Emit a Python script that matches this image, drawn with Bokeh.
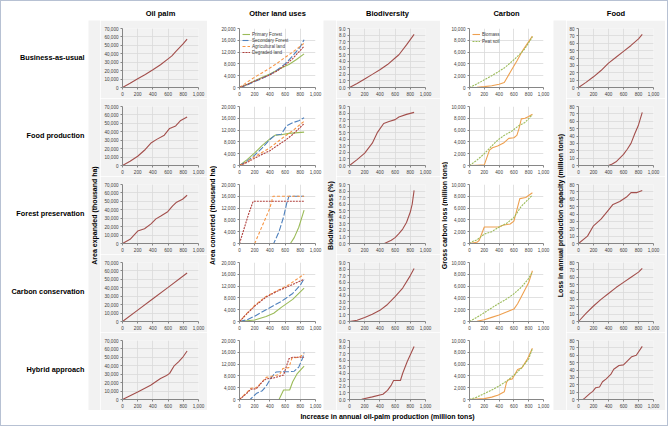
import math
from bokeh.plotting import figure
from bokeh.layouts import row, column
from bokeh.models import (ColumnDataSource, FixedTicker, NumeralTickFormatter, Range1d,
                          Legend, LegendItem, Spacer)
from bokeh.embed import file_html
from bokeh.resources import INLINE
from bokeh.core.properties import value

# ---------------- categories / labels ----------------
SCENARIOS = ["Business-as-usual", "Food production", "Forest preservation",
             "Carbon conservation", "Hybrid approach"]
PANEL_TITLES = ["Oil palm", "Other land uses", "Biodiversity", "Carbon", "Food"]
Y_TITLES = ["Area expanded (thousand ha)", "Area converted (thousand ha)",
            "Biodiversity loss (%)", "Gross carbon loss (million tons)",
            "Loss in annual production capacity (million tons)"]
X_TITLE = "Increase in annual oil-palm production (million tons)"
LAND_NAMES = ["Primary Forest", "Secondary Forest", "Agricultural land", "Degraded land"]
CARBON_NAMES = ["Biomass", "Peat soil"]

X_TICKS = [0, 200, 400, 600, 800, 1000]
Y_TICKS_OIL = [0, 10000, 20000, 30000, 40000, 50000, 60000, 70000]
Y_TICKS_LAND = [0, 4000, 8000, 12000, 16000, 20000]
Y_TICKS_BIO = [0, 1, 2, 3, 4, 5, 6, 7, 8, 9]
Y_TICKS_CARBON = [0, 2000, 4000, 6000, 8000, 10000]
Y_TICKS_FOOD = [0, 10, 20, 30, 40, 50, 60, 70, 80]

# ---------------- data (x = production increase, y = value) ----------------
# Business-as-usual
oil_bau = [(0, 0), (100, 5000), (200, 10300), (300, 15500), (400, 21000), (500, 27000),
           (600, 34000), (650, 37500), (700, 42500), (800, 52000), (850, 57500)]
prim_bau = [(0, 0), (100, 1000), (200, 2300), (300, 3500), (400, 4600), (500, 5900),
            (600, 7200), (650, 7800), (750, 9500), (850, 11400)]
sec_bau = [(0, 0), (100, 800), (200, 2000), (300, 3100), (400, 4300), (500, 6000),
           (600, 8000), (700, 10700), (800, 13800), (850, 16200)]
agri_bau = [(0, 0), (100, 1800), (200, 3500), (300, 5000), (400, 6600), (500, 8300),
            (600, 10200), (700, 12000), (850, 15000)]
degr_bau = [(0, 0), (100, 1000), (200, 2200), (300, 3200), (400, 4300), (500, 5700),
            (600, 7600), (700, 9800), (850, 14000)]
bio_bau = [(0, 0), (100, 0.6), (200, 1.3), (300, 2.0), (400, 2.7), (500, 3.5),
           (600, 4.5), (650, 5.0), (750, 6.5), (850, 8.1)]
biomass_bau = [(0, 0), (100, 30), (200, 150), (300, 300), (400, 550), (470, 850),
               (560, 2800), (640, 4500), (720, 6300), (850, 8700)]
peat_bau = [(0, 0), (100, 600), (200, 1300), (300, 2000), (400, 2750), (480, 3400),
            (600, 4700), (700, 5900), (750, 6600), (850, 8600)]
food_bau = [(0, 0), (100, 7), (200, 14.5), (300, 23), (400, 33), (500, 41), (600, 49),
            (700, 57), (800, 66), (850, 72)]

# Food production
oil_food = [(0, 0), (100, 5000), (200, 11000), (300, 19000), (380, 27000), (450, 31000),
            (550, 36000), (620, 44000), (700, 47000), (760, 53000), (850, 57500)]
prim_food = [(0, 0), (100, 2000), (200, 4300), (300, 6800), (400, 9000), (470, 10300),
             (550, 10400), (650, 10900), (850, 11300)]
sec_food = [(0, 0), (100, 1500), (200, 3500), (300, 6000), (400, 8800), (470, 10300),
            (550, 10600), (620, 13500), (700, 14500), (780, 15200), (850, 16200)]
agri_food = [(0, 0), (100, 1300), (200, 3000), (300, 4500), (400, 6000), (500, 8000),
             (600, 10000), (700, 11800), (850, 15000)]
degr_food = [(0, 0), (100, 1000), (200, 2500), (300, 3800), (400, 5000), (500, 6800),
             (600, 8500), (700, 10500), (850, 14200)]
bio_food = [(0, 0), (100, 0.9), (200, 1.9), (300, 3.4), (370, 5.1), (450, 6.4), (520, 6.7),
            (600, 7.0), (650, 7.4), (750, 7.8), (850, 8.1)]
biomass_food = [(0, 0), (100, 50), (200, 100), (270, 2600), (310, 3000), (380, 3300),
                (460, 3800), (530, 4600), (600, 4700), (640, 5100), (670, 6300), (700, 7900),
                (750, 8000), (800, 8300), (850, 8700)]
peat_food = [(0, 0), (100, 900), (200, 2000), (300, 3300), (380, 4300), (480, 5200),
             (570, 5800), (660, 6700), (750, 7300), (850, 8600)]
food_food = [(0, 0), (400, 0), (450, 2), (500, 5), (600, 15), (650, 22), (700, 30),
             (750, 43), (800, 55), (850, 72)]

# Forest preservation
oil_forest = [(0, 0), (100, 5000), (200, 14800), (290, 17500), (375, 23300), (440, 29200),
              (510, 33000), (595, 37700), (660, 44700), (705, 48600), (790, 52500), (850, 57200)]
prim_forest = [(0, 0), (670, 0), (720, 2000), (780, 5500), (850, 11300)]
sec_forest = [(0, 0), (450, 0), (520, 4000), (580, 9000), (620, 13500), (650, 16000), (850, 16000)]
agri_forest = [(0, 0), (200, 0), (300, 6000), (400, 12000), (440, 16000), (850, 16000)]
degr_forest = [(0, 0), (60, 5000), (120, 10000), (180, 14300), (850, 14300)]
bio_forest = [(0, 0), (460, 0), (550, 0.5), (600, 0.9), (650, 1.5), (700, 2.2), (750, 3.2),
              (800, 4.8), (825, 6.0), (850, 8.1)]
biomass_forest = [(0, 0), (100, 200), (130, 500), (200, 2800), (400, 2800), (450, 3100),
                  (550, 3300), (600, 3800), (680, 7600), (760, 7800), (850, 8600)]
peat_forest = [(0, 0), (50, 400), (100, 600), (200, 1600), (300, 2000), (400, 2800),
               (500, 3400), (600, 4400), (700, 6300), (850, 8200)]
food_forest = [(0, 0), (120, 10), (200, 24), (300, 33), (380, 43), (460, 53), (550, 57),
               (640, 63), (700, 69), (780, 69), (850, 72)]

# Carbon conservation
oil_carbon = [(0, 0), (200, 13500), (400, 27000), (600, 40500), (850, 57500)]
prim_carbon = [(0, 0), (200, 500), (350, 1700), (450, 2800), (550, 4800), (700, 7500), (850, 11300)]
sec_carbon = [(0, 0), (100, 600), (200, 1800), (350, 4000), (550, 6800), (700, 9500),
              (800, 12300), (850, 14500)]
agri_carbon = [(0, 0), (100, 2800), (200, 5500), (350, 8500), (500, 10500), (650, 12500), (850, 16000)]
degr_carbon = [(0, 0), (100, 2700), (200, 5200), (350, 8300), (500, 10300), (650, 12000), (850, 14300)]
bio_carbon = [(0, 0), (100, 0.2), (200, 0.6), (300, 1.1), (400, 1.7), (500, 2.6), (600, 3.8),
              (700, 5.1), (800, 7.0), (850, 8.1)]
biomass_carbon = [(0, 0), (100, 50), (200, 300), (300, 700), (400, 1100), (500, 1600),
                  (600, 2100), (650, 3000), (700, 4200), (800, 6600), (850, 8600)]
peat_carbon = [(0, 0), (100, 700), (200, 1500), (300, 2300), (400, 3100), (500, 3800),
               (600, 4700), (700, 5800), (800, 7300), (850, 8400)]
food_carbon = [(0, 0), (100, 11), (200, 21), (300, 30), (400, 38), (500, 46), (600, 53),
               (700, 60), (800, 67), (850, 72)]

# Hybrid approach
oil_hybrid = [(0, 0), (200, 9000), (370, 17000), (500, 25000), (580, 28500), (620, 31000),
              (680, 40000), (740, 45000), (800, 51000), (850, 57500)]
prim_hybrid = [(0, 0), (520, 0), (580, 3200), (660, 3200), (700, 6000), (760, 8800), (850, 11300)]
sec_hybrid = [(0, 0), (140, 0), (220, 2000), (300, 3000), (350, 4500), (420, 7500), (480, 9300),
              (560, 9400), (650, 9400), (720, 9600), (780, 11000), (830, 14000), (850, 16000)]
agri_hybrid = [(0, 0), (100, 2500), (150, 3800), (220, 4000), (300, 6000), (350, 7500),
               (450, 8000), (530, 8500), (570, 10500), (650, 10800), (690, 14000), (790, 14400),
               (850, 15500)]
degr_hybrid = [(0, 0), (100, 2200), (150, 3500), (220, 3600), (300, 6000), (350, 7000),
               (450, 7300), (580, 8300), (650, 13800), (700, 14300), (850, 14300)]
bio_hybrid = [(160, 0.05), (300, 0.4), (440, 0.8), (500, 1.4), (550, 2.2), (580, 2.9),
              (670, 2.9), (700, 4.0), (760, 5.8), (850, 8.1)]
biomass_hybrid = [(0, 0), (200, 150), (300, 400), (390, 750), (470, 1300), (500, 2900),
                  (520, 3300), (580, 3500), (650, 5100), (710, 5400), (780, 6800), (850, 8700)]
peat_hybrid = [(0, 0), (100, 400), (200, 1000), (300, 1600), (400, 2300), (500, 3100),
               (600, 4100), (700, 5300), (800, 6900), (850, 8600)]
food_hybrid = [(0, 0), (60, 0), (80, 1.5), (150, 8), (190, 11), (230, 16), (280, 17), (320, 24),
               (370, 28), (430, 34), (470, 41), (540, 46), (600, 47), (660, 53), (710, 58),
               (770, 60), (850, 72)]

OIL = [oil_bau, oil_food, oil_forest, oil_carbon, oil_hybrid]
LAND = [[prim_bau, sec_bau, agri_bau, degr_bau],
        [prim_food, sec_food, agri_food, degr_food],
        [prim_forest, sec_forest, agri_forest, degr_forest],
        [prim_carbon, sec_carbon, agri_carbon, degr_carbon],
        [prim_hybrid, sec_hybrid, agri_hybrid, degr_hybrid]]
BIO = [bio_bau, bio_food, bio_forest, bio_carbon, bio_hybrid]
CARB = [[biomass_bau, peat_bau], [biomass_food, peat_food], [biomass_forest, peat_forest],
        [biomass_carbon, peat_carbon], [biomass_hybrid, peat_hybrid]]
FOOD = [food_bau, food_food, food_forest, food_carbon, food_hybrid]

# ---------------- styling ----------------
FONT = "Liberation Sans"
GREY = "#f2f2f2"
MAIN = "#a34f4c"
LAND_STYLE = [("#9bbb59", "solid"), ("#4f81bd", "6 2"), ("#f79646", "3 2"), ("#b0403d", "2 1")]
CARB_STYLE = [("#eea050", "solid"), ("#9bbb59", "2 1")]
Y_TICKS = [Y_TICKS_OIL, Y_TICKS_LAND, Y_TICKS_BIO, Y_TICKS_CARBON, Y_TICKS_FOOD]
Y_FMT = ["0,0", "0,0", "0.0", "0,0", "0"]
GREY_COL = [True, False, True, False, True]
YLAB_W = [12, 10, 13, 8, 13]
PANEL_W = [107, 106, 104, 105, 99]
BORDER_L = [22, 22, 13, 19, 11]
ROW_H = 78
TITLE_H = 19
ROWLAB_W = 87
XLAB_H = 15


def src(pairs):
    return ColumnDataSource(data=dict(x=[p[0] for p in pairs], y=[p[1] for p in pairs]))


def text_fig(w, h, bg):
    p = figure(width=w, height=h, output_backend="svg", toolbar_location=None,
               x_range=Range1d(0, w), y_range=Range1d(0, h), x_axis_type=None,
               y_axis_type=None, min_border=0)
    p.outline_line_color = None
    p.background_fill_color = bg
    p.border_fill_color = bg
    return p


def add_legend(p, items, spacing):
    leg = Legend(items=items, location="top_left")
    leg.label_text_font = FONT
    leg.label_text_font_size = "4.6px"
    leg.label_text_color = "#404040"
    leg.glyph_width = 8
    leg.glyph_height = 6
    leg.label_height = 6
    leg.label_standoff = 2
    leg.spacing = spacing
    leg.padding = 1
    leg.margin = 2
    leg.background_fill_alpha = 0
    leg.border_line_alpha = 0
    p.add_layout(leg)


def make_panel(ci, ri):
    bg = GREY if GREY_COL[ci] else "white"
    yt = Y_TICKS[ci]
    p = figure(width=PANEL_W[ci], height=ROW_H, output_backend="svg", toolbar_location=None,
               x_range=Range1d(0, 1000), y_range=Range1d(yt[0], yt[-1]),
               min_border_left=BORDER_L[ci],
               min_border_right=PANEL_W[ci] - BORDER_L[ci] - 76,
               min_border_top=8, min_border_bottom=11)
    p.background_fill_color = bg
    p.border_fill_color = bg
    p.outline_line_color = None
    p.xaxis.ticker = FixedTicker(ticks=X_TICKS)
    p.yaxis.ticker = FixedTicker(ticks=yt)
    p.xaxis.formatter = NumeralTickFormatter(format="0,0")
    p.yaxis.formatter = NumeralTickFormatter(format=Y_FMT[ci])
    for ax in (p.xaxis[0], p.yaxis[0]):
        ax.axis_line_color = "#868686"
        ax.axis_line_width = 1
        ax.major_tick_line_color = "#868686"
        ax.major_tick_out = 2
        ax.major_tick_in = 0
        ax.minor_tick_line_color = None
        ax.major_label_text_font = FONT
        ax.major_label_text_font_size = "4.6px"
        ax.major_label_text_color = "#404040"
        ax.major_label_standoff = 2
    p.grid.grid_line_color = "#d9d9d9"
    p.grid.grid_line_width = 0.8

    if ci == 0:
        p.line("x", "y", source=src(OIL[ri]), line_color=MAIN, line_width=1.1)
    elif ci == 2:
        p.line("x", "y", source=src(BIO[ri]), line_color=MAIN, line_width=1.1)
    elif ci == 4:
        p.line("x", "y", source=src(FOOD[ri]), line_color=MAIN, line_width=1.1)
    elif ci == 1:
        items = []
        for k, series in enumerate(LAND[ri]):
            col, dash = LAND_STYLE[k]
            r = p.line("x", "y", source=src(series), line_color=col, line_width=1.1, line_dash=dash)
            items.append(LegendItem(label=LAND_NAMES[k], renderers=[r]))
        if ri == 0:
            add_legend(p, items, 0)
    elif ci == 3:
        items = []
        for k, series in enumerate(CARB[ri]):
            col, dash = CARB_STYLE[k]
            r = p.line("x", "y", source=src(series), line_color=col, line_width=1.1, line_dash=dash)
            items.append(LegendItem(label=CARBON_NAMES[k], renderers=[r]))
        if ri == 0:
            add_legend(p, items, 1)
    return p


def add_text(p, x, y, txt, size, align="center", angle=0.0):
    p.text(x=[x], y=[y], text=[txt], text_font=value(FONT), text_font_style="bold",
           text_font_size=value(size), text_align=align, text_baseline="middle",
           text_color="#000000", angle=angle)


# ---------------- layout ----------------
label_figs = [Spacer(width=ROWLAB_W, height=TITLE_H)]
for ri, name in enumerate(SCENARIOS):
    f = text_fig(ROWLAB_W, ROW_H, "white")
    add_text(f, ROWLAB_W - 4, ROW_H / 2 + 2, name, "7.3px", align="right")
    label_figs.append(f)
blocks = [column(*label_figs)]

panels_h = ROW_H * len(SCENARIOS)
for ci in range(5):
    bg = GREY if GREY_COL[ci] else "white"
    ylab = text_fig(YLAB_W[ci], panels_h, bg)
    add_text(ylab, YLAB_W[ci] / 2, panels_h / 2, Y_TITLES[ci], "7px", angle=math.pi / 2)
    title = text_fig(PANEL_W[ci], TITLE_H, "white")
    add_text(title, PANEL_W[ci] / 2, TITLE_H - 12, PANEL_TITLES[ci], "7.5px")
    panels = [make_panel(ci, ri) for ri in range(5)]
    blocks.append(row(column(Spacer(width=YLAB_W[ci], height=TITLE_H), ylab),
                      column(title, *panels)))
blocks.append(Spacer(width=2, height=TITLE_H + panels_h))

total_w = ROWLAB_W + sum(YLAB_W) + sum(PANEL_W) + 2
xl = text_fig(total_w, XLAB_H, "white")
add_text(xl, 386, XLAB_H - 6, X_TITLE, "7px")

layout = column(row(*blocks), xl, styles={"border": "1px solid #b7c1d3"})

open("out.html", "w").write(file_html(layout, INLINE))
